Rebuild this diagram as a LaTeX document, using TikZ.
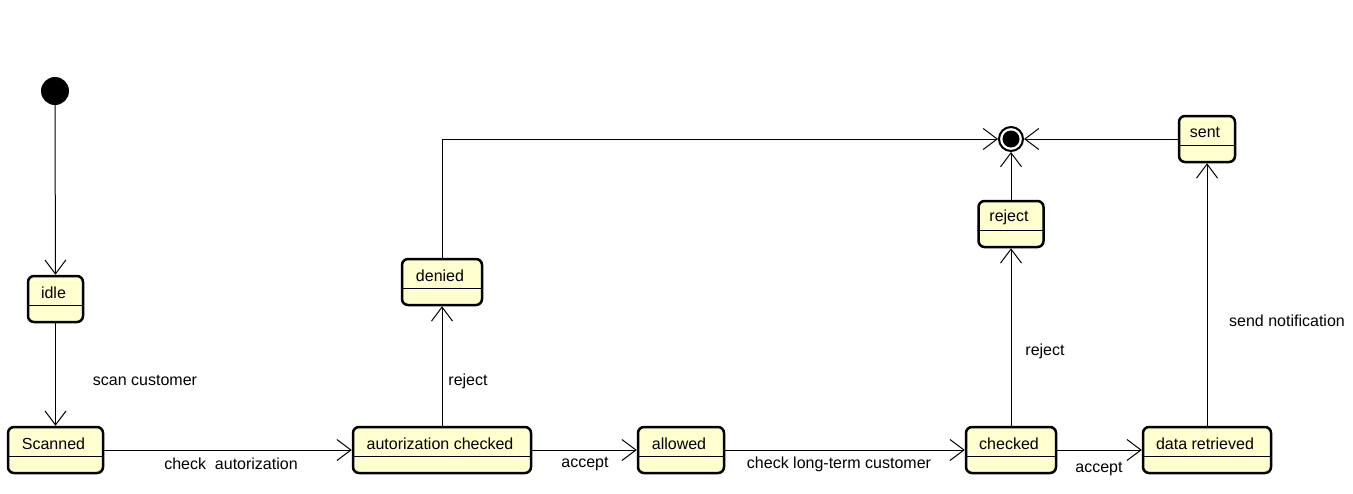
\documentclass[tikz,border=0pt]{standalone}
\usepackage{fontspec}
\setmainfont{Liberation Sans}
\usetikzlibrary{arrows.meta}
\definecolor{statefill}{HTML}{FEFECE}
\tikzset{
  statebox/.style={draw=black, fill=statefill, line width=2.5pt, rounded corners=6pt,
    minimum height=46pt, inner sep=0pt},
  divider/.style={line width=1pt},
  statetext/.style={inner sep=0pt, font=\fontsize{16}{19}\selectfont},
  edgelabel/.style={inner sep=0pt, font=\fontsize{16}{19}\selectfont},
  trans/.style={line width=1pt, -{Straight Barb[length=14pt,width=21pt]}},
}
% state box: name, centre x, centre y, width, caption
\newcommand\umlstate[5]{%
  \node[statebox, minimum width=#4pt] (#1) at (#2,#3) {};
  \draw[divider] ([yshift=-31pt]#1.north west) -- ([yshift=-31pt]#1.north east);
  \node[statetext] (#1-text) at ([yshift=-18pt, xshift=-2pt]#1.north) {#5};
}
\begin{document}
\begin{tikzpicture}[x=1pt, y=-1pt]
\useasboundingbox (0,0) rectangle (1353,493);

% start and end pseudo-states
\node[circle, fill=black, minimum size=28pt, inner sep=0pt] (init) at (55,91) {};
\node[circle, draw=black, fill=white, line width=2pt, minimum size=24pt, inner sep=0pt] (final) at (1011,139) {};
\fill[black] (final.center) circle (8.5pt);

% states
\umlstate{idle}{55.5}{299}{55}{idle}
\umlstate{scanned}{55.5}{450}{95}{Scanned}
\umlstate{authchecked}{442}{450}{178}{autorization checked}
\umlstate{allowed}{681}{450}{86}{allowed}
\umlstate{checked}{1011}{450}{90}{checked}
\umlstate{retrieved}{1207}{450}{128}{data retrieved}
\umlstate{denied}{442}{282}{80}{denied}
\umlstate{rejectst}{1011}{224}{65}{reject}
\umlstate{sent}{1207}{139}{56}{sent}

% transitions
\draw[trans] (init) -- (idle);
\draw[trans] (idle) -- (scanned);
\draw[trans] (scanned) -- (authchecked);
\draw[trans] (authchecked) -- (denied);
\draw[trans] (authchecked) -- (allowed);
\draw[trans] (allowed) -- (checked);
\draw[trans] (checked) -- (rejectst);
\draw[trans] (checked) -- (retrieved);
\draw[trans] (retrieved) -- (sent);
\draw[trans] (denied.north) |- (final.west);
\draw[trans] (rejectst) -- (final);
\draw[trans] (sent) -- (final);

% transition labels
\node[edgelabel] (lscan) at (145,380) {scan customer};
\node[edgelabel] (lauth) at (231,464) {check~ autorization};
\node[edgelabel] (lrej1) at (468,381) {reject};
\node[edgelabel] (lacc1) at (585,464) {accept};
\node[edgelabel] (llong) at (839,464) {check long-term customer};
\node[edgelabel] (lrej2) at (1045,351) {reject};
\node[edgelabel] (lacc2) at (1099,469) {accept};
\node[edgelabel] (lsend) at (1287,321) {send notification};
\end{tikzpicture}
\end{document}
